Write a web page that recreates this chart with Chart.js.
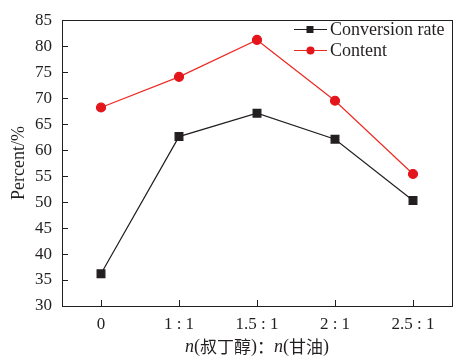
<!DOCTYPE html>
<html>
<head>
<meta charset="utf-8">
<script src="https://cdn.jsdelivr.net/npm/chart.js@4"></script>
<style>
  html, body { margin: 0; padding: 0; background: #fff; }
  #wrap { width: 471px; height: 364px; }
</style>
</head>
<body>
<div id="wrap"><canvas id="chart" width="471" height="364"></canvas></div>
<script>
// === Chart data ===
const categories = ['0', '1 : 1', '1.5 : 1', '2 : 1', '2.5 : 1'];
const conversionRate = [36.2, 62.6, 67.1, 62.1, 50.3];
const content = [68.2, 74.1, 81.2, 69.5, 55.4];
const yTicks = [30, 35, 40, 45, 50, 55, 60, 65, 70, 75, 80, 85];

const serif = '"Liberation Serif", "Times New Roman", serif';
const cjk = '"Noto Sans CJK SC", sans-serif';

// === Draw inward ticks, axis titles and legend ===
const decorPlugin = {
    id: 'decor',
    afterDraw(chart) {
        const ctx = chart.ctx;
        const area = chart.chartArea;
        const x = chart.scales.x;
        const y = chart.scales.y;
        ctx.save();
        ctx.strokeStyle = '#231f20';
        ctx.lineWidth = 1;

        // frame
        ctx.strokeRect(Math.round(area.left) + 0.5, Math.round(area.top) + 0.5,
            Math.round(area.right - area.left), Math.round(area.bottom - area.top));

        // inward y ticks
        ctx.beginPath();
        yTicks.forEach(v => {
            const py = Math.round(y.getPixelForValue(v)) + 0.5;
            ctx.moveTo(area.left, py);
            ctx.lineTo(area.left + 6, py);
        });
        // inward x ticks
        categories.forEach((c, i) => {
            const px = Math.round(x.getPixelForValue(i)) + 0.5;
            ctx.moveTo(px, area.bottom);
            ctx.lineTo(px, area.bottom - 6);
        });
        ctx.stroke();

        // y axis title
        ctx.fillStyle = '#231f20';
        ctx.font = '18px ' + serif;
        ctx.textAlign = 'center';
        ctx.textBaseline = 'middle';
        ctx.save();
        ctx.translate(19, (area.top + area.bottom) / 2);
        ctx.rotate(-Math.PI / 2);
        ctx.fillText('Percent/%', 0, 0);
        ctx.restore();

        // x axis title: n(叔丁醇)：n(甘油) with italic n
        const parts = [
            ['n', 'italic 18px ' + serif],
            ['(', '18px ' + serif],
            ['叔丁醇', '17px ' + cjk],
            [')', '18px ' + serif],
            ['：', '17px ' + cjk],
            ['n', 'italic 18px ' + serif],
            ['(', '18px ' + serif],
            ['甘油', '17px ' + cjk],
            [')', '18px ' + serif]
        ];
        let total = 0;
        parts.forEach(p => { ctx.font = p[1]; total += ctx.measureText(p[0]).width; });
        let cx = (area.left + area.right) / 2 - total / 2;
        ctx.textAlign = 'left';
        parts.forEach(p => {
            ctx.font = p[1];
            ctx.fillText(p[0], cx, 347);
            cx += ctx.measureText(p[0]).width;
        });

        // legend
        ctx.font = '18px ' + serif;
        chart.data.datasets.forEach((ds, i) => {
            const ly = 29 + i * 21;
            ctx.strokeStyle = ds.borderColor;
            ctx.beginPath();
            ctx.moveTo(294, ly + 0.5);
            ctx.lineTo(327, ly + 0.5);
            ctx.stroke();
            ctx.fillStyle = ds.pointBackgroundColor;
            if (ds.pointStyle === 'rect') {
                ctx.fillRect(310 - 3.5, ly - 3, 7, 7);
            } else {
                ctx.beginPath();
                ctx.arc(310.5, ly + 0.5, 4, 0, Math.PI * 2);
                ctx.fill();
            }
            ctx.fillStyle = '#231f20';
            ctx.fillText(ds.label, 330, ly + 1);
        });
        ctx.restore();
    }
};

const ctx = document.getElementById('chart').getContext('2d');
new Chart(ctx, {
    type: 'line',
    data: {
        labels: categories,
        datasets: [{
            label: 'Conversion rate',
            data: conversionRate,
            borderColor: '#231f20',
            backgroundColor: '#231f20',
            pointBackgroundColor: '#231f20',
            pointBorderColor: '#231f20',
            pointStyle: 'rect',
            pointRadius: 5.5,
            borderWidth: 1.2,
            tension: 0
        }, {
            label: 'Content',
            data: content,
            borderColor: '#ee2a24',
            backgroundColor: '#e5151c',
            pointBackgroundColor: '#e5151c',
            pointBorderColor: '#e5151c',
            pointStyle: 'circle',
            pointRadius: 4.5,
            borderWidth: 1.2,
            tension: 0
        }]
    },
    options: {
        responsive: false,
        animation: false,
        devicePixelRatio: 1,
        layout: { padding: { left: 0, right: 19, top: 14, bottom: 0 } },
        plugins: { legend: { display: false }, tooltip: { enabled: false } },
        scales: {
            x: {
                offset: true,
                grid: { display: false, drawTicks: false },
                border: { display: false },
                ticks: { color: '#231f20', font: { family: serif, size: 17 }, padding: 8, maxRotation: 0 },
                afterFit(scale) { scale.height = 58; }
            },
            y: {
                min: 30,
                max: 85,
                afterBuildTicks(scale) { scale.ticks = yTicks.map(v => ({ value: v })); },
                grid: { display: false, drawTicks: false },
                border: { display: false },
                ticks: { color: '#231f20', font: { family: serif, size: 17 }, padding: 10 },
                afterFit(scale) { scale.width = 62; }
            }
        }
    },
    plugins: [decorPlugin]
});
</script>
</body>
</html>
